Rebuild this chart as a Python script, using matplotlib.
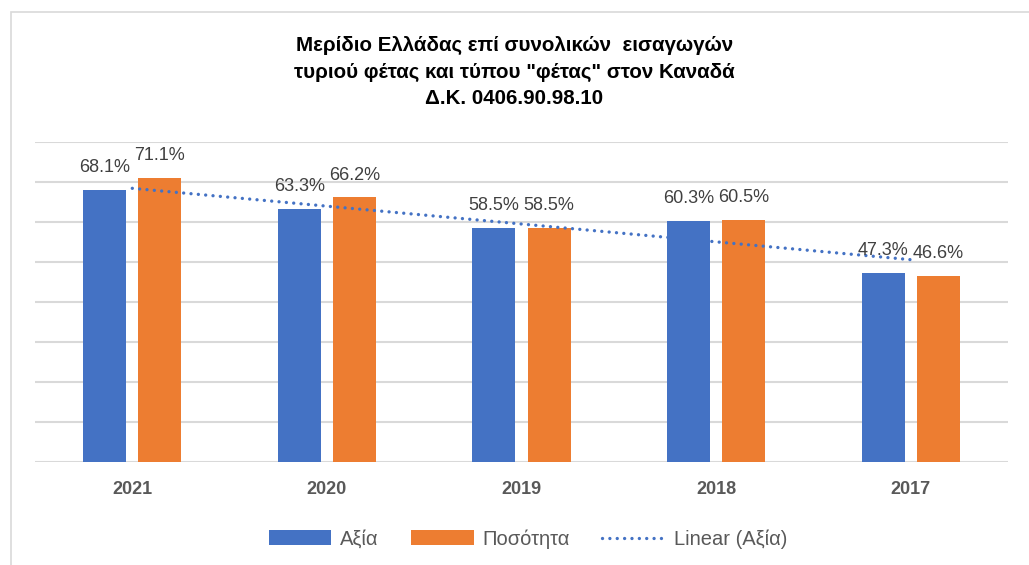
import numpy as np
import matplotlib
matplotlib.use("Agg")
import matplotlib.pyplot as plt
from matplotlib.patches import Rectangle

plt.rcParams['font.family'] = ['Liberation Sans', 'DejaVu Sans']

years = ['2021', '2020', '2019', '2018', '2017']
value_share = [68.1, 63.3, 58.5, 60.3, 47.3]
volume_share = [71.1, 66.2, 58.5, 60.5, 46.6]

blue = '#4472C4'
orange = '#ED7D31'
grid_col = '#D9D9D9'

fig = plt.figure(figsize=(10.29, 5.65), dpi=100)
# chart border (only top and left visible in the crop)
fig.patches.append(Rectangle((11 / 1029, -0.2), 1.2, 1.2 - 12 / 565, transform=fig.transFigure,
                             fill=False, edgecolor=grid_col, linewidth=1.2))

ax = fig.add_axes([35 / 1029, 1 - 462 / 565, 973 / 1029, 320 / 565])

x = np.arange(len(years))
w = 0.221
off = 0.1414
b1 = ax.bar(x - off, value_share, w, color=blue, label='Αξία', zorder=2)
b2 = ax.bar(x + off, volume_share, w, color=orange, label='Ποσότητα', zorder=2)

# linear trendline of Αξία
coef = np.polyfit(x, value_share, 1)
trend, = ax.plot(x, np.polyval(coef, x), color=blue, linewidth=2.4, linestyle=(0, (0.01, 2.2)),
                 dash_capstyle='round', label='Linear (Αξία)', zorder=3)

for bars, vals in ((b1, value_share), (b2, volume_share)):
    for r, v in zip(bars, vals):
        ax.annotate(f'{v:.1f}%', (r.get_x() + r.get_width() / 2, v), xytext=(0, 22),
                    textcoords='offset pixels', ha='center', va='center',
                    fontsize=13, color='#404040', zorder=4)

ax.set_ylim(0, 80)
ax.set_xlim(-0.5, 4.5)
ax.set_yticks(np.arange(0, 81, 10))
ax.yaxis.grid(True, color=grid_col, linewidth=1.5, zorder=0)
ax.set_axisbelow(True)
ax.tick_params(axis='y', left=False, labelleft=False)
ax.set_xticks(x)
ax.set_xticklabels(years, fontsize=13, fontweight='bold', color='#595959')
ax.tick_params(axis='x', length=0, pad=14)
for s in ax.spines.values():
    s.set_visible(False)

fig.text(0.5, 1 - 72 / 565,
         'Μερίδιο Ελλάδας επί συνολικών  εισαγωγών\nτυριού φέτας και τύπου "φέτας" στον Καναδά\nΔ.Κ. 0406.90.98.10',
         ha='center', va='center', fontsize=14.8, fontweight='bold', color='black', linespacing=1.5)

fig.legend(handles=[b1, b2, trend], loc='center', bbox_to_anchor=(528 / 1029, 1 - 539 / 565),
           ncol=3, frameon=False, fontsize=14.5, handlelength=3.1, handleheight=0.75,
           handletextpad=0.45, columnspacing=1.6, labelcolor='#595959')

fig.savefig('out.png', dpi=100)
